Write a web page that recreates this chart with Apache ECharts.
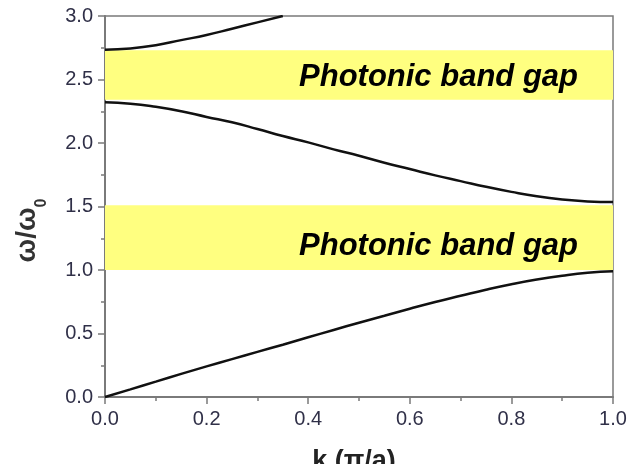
<!DOCTYPE html>
<html><head><meta charset="utf-8">
<script src="https://cdn.jsdelivr.net/npm/echarts@6/dist/echarts.min.js"></script>
<style>html,body{margin:0;padding:0;background:#fff}#c{width:627px;height:464px}</style>
</head><body><div id="c"></div>
<script>
const kValues = [0,0.05,0.1,0.15,0.2,0.25,0.3,0.35,0.4,0.45,0.5,0.55,0.6,0.65,0.7,0.75,0.8,0.85,0.9,0.95,1.0];
const band1 = [0,0.06,0.121,0.182,0.241,0.298,0.355,0.412,0.47,0.528,0.585,0.64,0.695,0.748,0.797,0.845,0.888,0.925,0.955,0.978,0.99];
const band2 = [2.32,2.31,2.285,2.25,2.205,2.163,2.11,2.055,2.005,1.95,1.9,1.845,1.795,1.745,1.70,1.655,1.615,1.58,1.555,1.54,1.535];
const band3K = [0,0.05,0.1,0.15,0.2,0.25,0.3,0.35];
const band3 = [2.735,2.745,2.77,2.81,2.85,2.9,2.95,3.0];
const gapLower = [1.0, 1.51];
const gapUpper = [2.34, 2.73];
const gapLabel = 'Photonic band gap';
const xTicks = [0,0.2,0.4,0.6,0.8,1.0];
const yTicks = [0,0.5,1.0,1.5,2.0,2.5,3.0];

const pair = (xs, ys) => xs.map((x,i)=>[x, ys[i]]);
const chart = echarts.init(document.getElementById('c'));
const tickColor = '#303048';
const axisGray = '#7a7a7a';
const lineStyle = {color:'#111', width:2.5};
const font = 'Liberation Sans, Arial, sans-serif';
const labelStyle = {show:true, position:'insideRight', distance:35, color:'#000', fontSize:31, fontWeight:'bold', fontStyle:'italic', fontFamily:font};

chart.setOption({
  animation:false,
  grid:{left:105, right:14, top:16, bottom:67, outerBoundsMode:'none', containLabel:false, show:true, borderColor:axisGray, borderWidth:1.5},
  xAxis:{type:'value', min:0, max:1, interval:0.2,
    axisLine:{show:true, lineStyle:{color:axisGray, width:2}},
    axisTick:{show:true, inside:false, length:7, lineStyle:{color:axisGray, width:1.5}},
    minorTick:{show:true, splitNumber:2, length:4, lineStyle:{color:axisGray, width:1.5}},
    splitLine:{show:false},
    axisLabel:{color:tickColor, fontSize:20, fontFamily:font, margin:12, formatter:v=>v.toFixed(1)},
    name:'k (π/a)', nameLocation:'middle', nameGap:51,
    nameTextStyle:{color:'#222', fontSize:27, fontWeight:'bold', fontFamily:font, padding:[0,10,0,0]}
  },
  yAxis:{type:'value', min:0, max:3, interval:0.5,
    axisLine:{show:true, lineStyle:{color:axisGray, width:2}},
    axisTick:{show:true, inside:false, length:7, lineStyle:{color:axisGray, width:1.5}},
    minorTick:{show:true, splitNumber:2, length:4, lineStyle:{color:axisGray, width:1.5}},
    splitLine:{show:false},
    axisLabel:{color:tickColor, fontSize:20, fontFamily:font, margin:12, formatter:v=>v.toFixed(1)},
    name:'{a|ω/ω}{b|0}', nameLocation:'middle', nameGap:55, nameRotate:90,
    nameTextStyle:{padding:[0,48,0,0], rich:{
      a:{color:'#333', fontSize:28, fontWeight:'bold', fontFamily:font},
      b:{color:'#333', fontSize:16, fontWeight:'bold', fontFamily:font, padding:[30,0,0,0]}
    }}
  },
  series:[
    {type:'line', data:pair(kValues, band1), smooth:true, symbol:'none', lineStyle:lineStyle, z:3,
     markArea:{silent:true, itemStyle:{color:'#ffff80'}, label:labelStyle,
       data:[
         [{yAxis:gapLower[0], xAxis:0, name:gapLabel, label:{offset:[0,9]}}, {yAxis:gapLower[1], xAxis:1}],
         [{yAxis:gapUpper[0], xAxis:0, name:gapLabel, label:{offset:[0,2]}}, {yAxis:gapUpper[1], xAxis:1}]
       ]}},
    {type:'line', data:pair(kValues, band2), smooth:true, symbol:'none', lineStyle:lineStyle, z:3},
    {type:'line', data:pair(band3K, band3), smooth:true, symbol:'none', lineStyle:lineStyle, z:3}
  ]
});
</script></body></html>
